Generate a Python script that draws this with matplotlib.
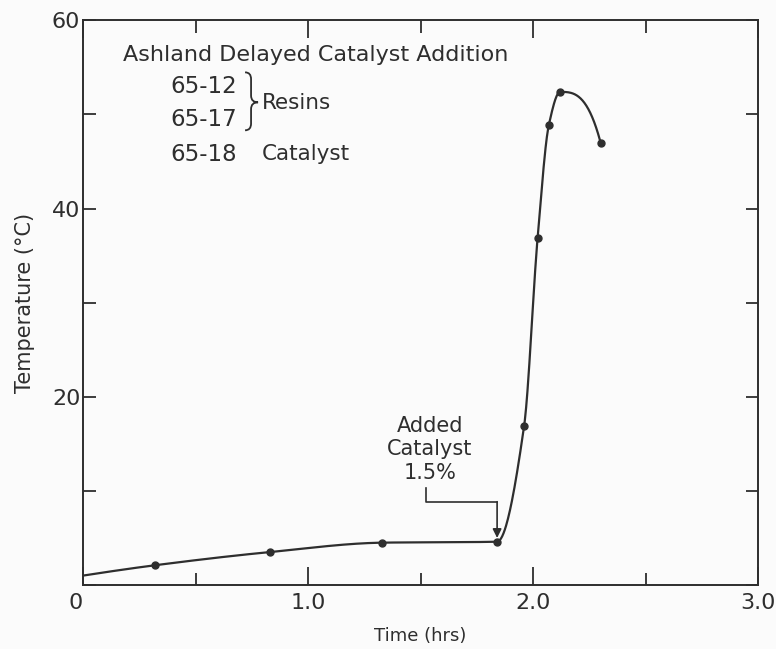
import numpy as np
import matplotlib
matplotlib.use("Agg")
import matplotlib.pyplot as plt
from matplotlib.path import Path
from matplotlib.patches import PathPatch

# data
time_hrs = [0.0, 0.32, 0.83, 1.33, 1.84, 1.96, 2.02, 2.07, 2.12, 2.30]
temp_c = [1.0, 2.1, 3.5, 4.5, 4.6, 16.9, 36.9, 48.9, 52.4, 47.0]
x_ticklabels = ["0", "1.0", "2.0", "3.0"]
y_ticklabels = ["", "", "20", "", "40", "", "60"]

INK = "#2e2e2e"


def _end_slope(h0, h1, d0, d1):
	m = ((2 * h0 + h1) * d0 - h0 * d1) / (h0 + h1)
	if np.sign(m) != np.sign(d0):
		return 0.0
	if np.sign(d0) != np.sign(d1) and abs(m) > abs(3 * d0):
		return 3 * d0
	return m


def pchip(x, y, xs):
	"""monotone cubic, only used to draw the smooth curve through the points"""
	x = np.asarray(x, float)
	y = np.asarray(y, float)
	h = np.diff(x)
	d = np.diff(y) / h
	m = np.zeros_like(y)
	for k in range(1, len(x) - 1):
		if d[k - 1] * d[k] <= 0:
			m[k] = 0.0
		else:
			w1 = 2 * h[k] + h[k - 1]
			w2 = h[k] + 2 * h[k - 1]
			m[k] = (w1 + w2) / (w1 / d[k - 1] + w2 / d[k])
	m[0] = _end_slope(h[0], h[1], d[0], d[1])
	m[-1] = _end_slope(h[-1], h[-2], d[-1], d[-2])
	out = np.empty_like(xs)
	idx = np.clip(np.searchsorted(x, xs) - 1, 0, len(h) - 1)
	for j, (xv, k) in enumerate(zip(xs, idx)):
		t = (xv - x[k]) / h[k]
		h00 = 2 * t**3 - 3 * t**2 + 1
		h10 = t**3 - 2 * t**2 + t
		h01 = -2 * t**3 + 3 * t**2
		h11 = t**3 - t**2
		out[j] = h00 * y[k] + h10 * h[k] * m[k] + h01 * y[k + 1] + h11 * h[k] * m[k + 1]
	return out


fig = plt.figure(figsize=(7.76, 6.49), dpi=100)
fig.patch.set_facecolor("#fbfbfb")
ax = fig.add_axes([0.107, 0.0986, 0.870, 0.870])
ax.set_facecolor("#fbfbfb")

xs = np.linspace(time_hrs[0], time_hrs[-1], 800)
ax.plot(xs, pchip(time_hrs, temp_c, xs), color=INK, lw=1.6)
ax.plot(time_hrs[1:], temp_c[1:], "o", color=INK, ms=5)

ax.set_xlim(0, 3.0)
ax.set_ylim(0, 60)

ax.set_xticks([0, 1.0, 2.0, 3.0])
ax.set_xticklabels(x_ticklabels)
ax.set_xticks([0.5, 1.5, 2.5], minor=True)
ax.set_yticks(range(0, 61, 10))
ax.set_yticklabels(y_ticklabels)
ax.tick_params(which="major", direction="in", length=13, width=1.3, color=INK,
			   labelsize=16, labelcolor=INK, top=True, right=True, pad=6)
ax.tick_params(which="minor", direction="in", length=9, width=1.3, color=INK,
			   top=True, right=True)
ax.tick_params(axis="y", which="major", length=9, pad=2)
ax.get_xticklabels()[0].set_horizontalalignment("right")
for s in ax.spines.values():
	s.set_color(INK)
	s.set_linewidth(1.4)

ax.set_xlabel("Time (hrs)", fontsize=13, color=INK, labelpad=10)
ax.set_ylabel("Temperature (°C)", fontsize=15, color=INK, labelpad=12)

# title block
tkw = dict(transform=ax.transAxes, color=INK, va="center", ha="left")
ax.text(0.059, 0.938, "Ashland Delayed Catalyst Addition", fontsize=16, **tkw)
ax.text(0.129, 0.883, "65-12", fontsize=16.5, **tkw)
ax.text(0.129, 0.825, "65-17", fontsize=16.5, **tkw)
ax.text(0.265, 0.854, "Resins", fontsize=15.5, **tkw)
ax.text(0.129, 0.763, "65-18", fontsize=16.5, **tkw)
ax.text(0.265, 0.763, "Catalyst", fontsize=15.5, **tkw)

# curly brace
def fx(px):
	return (px - 83) / 675.0

def fy(py):
	return (585 - py) / 565.0

x0, x1, xm = fx(245), fx(258), fx(251)
yt, yb, ymid = fy(72), fy(130), fy(102)
r = 0.012
verts = [(x0, yt), (xm, yt), (xm, yt - r),
		 (xm, ymid + r), (xm, ymid), (x1, ymid),
		 (xm, ymid), (xm, ymid - r),
		 (xm, yb + r), (xm, yb), (x0, yb)]
codes = [Path.MOVETO, Path.CURVE3, Path.CURVE3,
		 Path.LINETO, Path.CURVE3, Path.CURVE3,
		 Path.CURVE3, Path.CURVE3,
		 Path.LINETO, Path.CURVE3, Path.CURVE3]
ax.add_patch(PathPatch(Path(verts, codes), transform=ax.transAxes,
					   fill=False, edgecolor=INK, lw=1.3))

# catalyst note with elbow arrow
ax.text(1.542, 14.4, "Added\nCatalyst\n1.5%", ha="center", va="center",
		fontsize=15, color=INK, linespacing=1.2)
ax.plot([1.524, 1.524, 1.84], [10.3, 8.8, 8.8], color=INK, lw=1.2)
ax.annotate("", xy=(1.84, 5.0), xytext=(1.84, 8.85),
			arrowprops=dict(arrowstyle="-|>", color=INK, lw=1.2,
							mutation_scale=13, shrinkA=0, shrinkB=0))

fig.savefig("out.png", dpi=100, facecolor=fig.get_facecolor())
